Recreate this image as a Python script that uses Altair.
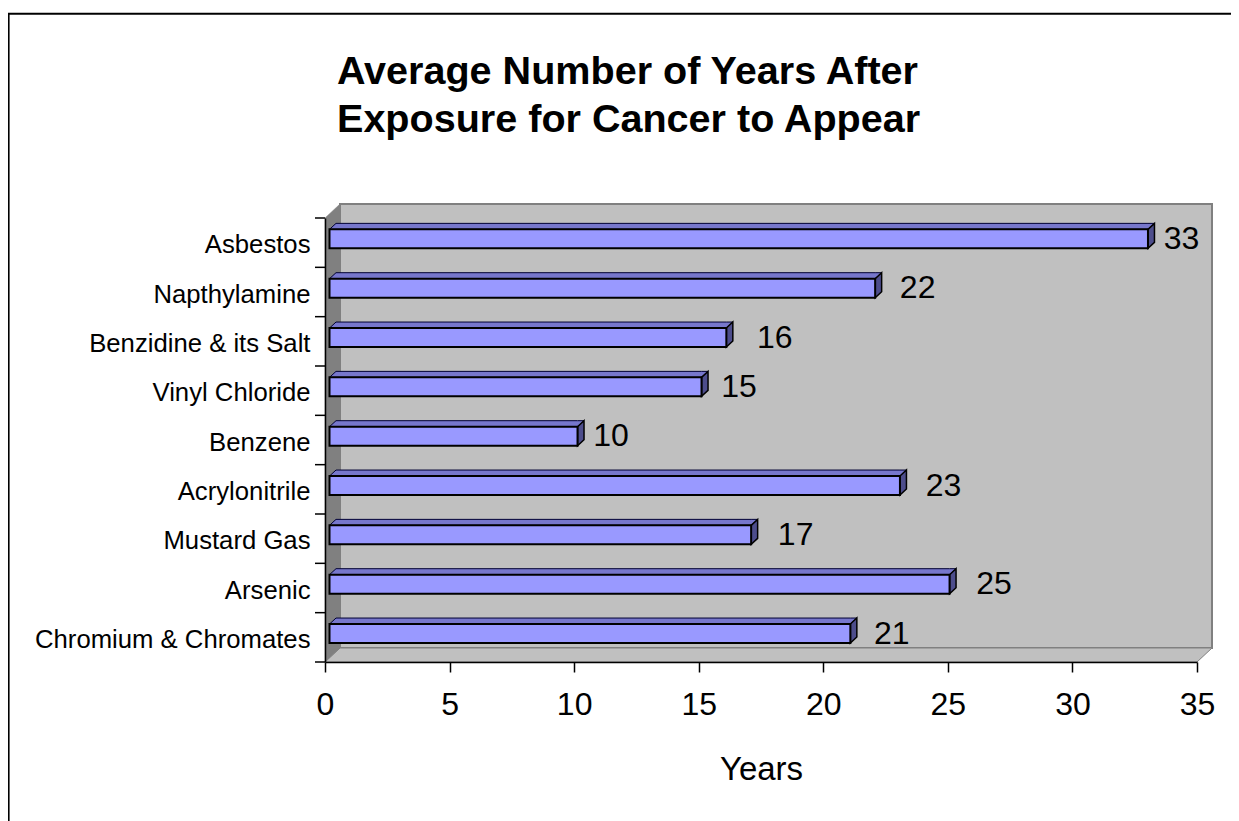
import json
import altair as alt
import pandas as pd

CATEGORIES = ["Asbestos", "Napthylamine", "Benzidine & its Salt", "Vinyl Chloride", "Benzene",
              "Acrylonitrile", "Mustard Gas", "Arsenic", "Chromium & Chromates"]
YEARS = [33, 22, 16, 15, 10, 23, 17, 25, 21]
TITLE = ["Average Number of Years After", "Exposure for Cancer to Appear"]
X_TICKS = [0, 5, 10, 15, 20, 25, 30, 35]
LABEL_NUDGE = [-8, 1, 7, -4, -8, 2, 3, 3, 0]

FONT = "Liberation Sans"
PW, PH = 872, 444
PX_X, PX_Y = PW / 35, PH / 9
FLOOR_DX, FLOOR_DY = 15 / PX_X, 14 / PX_Y
BAR_DX, BAR_DY = 6.5 / PX_X, 6 / PX_Y
BAR_START = 4.5 / PX_X
BAR_GAIN = 0.9955
BAR_LIFT = 3.8 / PX_Y
BAR_HALF = 9.5 / PX_Y

n = len(CATEGORIES)
fronts, tops, sides = [], [], []
for i, (cat, v) in enumerate(zip(CATEGORIES, YEARS)):
    mid = n - i - 0.5 + BAR_LIFT
    lo, hi = mid - BAR_HALF, mid + BAR_HALF
    x0, x1 = BAR_START, BAR_START + v * BAR_GAIN
    fronts.append(dict(cat=cat, x=x0, x2=x1, y=lo, y2=hi, v=v, mid=mid,
                       lx=x1 + BAR_DX + (35 + LABEL_NUDGE[i]) / PX_X))
    for px, a, b in [(x0, hi, hi), (x0 + BAR_DX, hi + BAR_DY, hi),
                     (x1, hi + BAR_DY, hi), (x1 + BAR_DX, hi + BAR_DY, hi + BAR_DY)]:
        tops.append(dict(id=cat, x=px, y=a, y2=b))
    for px, a, b in [(x1, hi, lo), (x1 + BAR_DX, hi + BAR_DY, lo + BAR_DY)]:
        sides.append(dict(id=cat, x=px, y=a, y2=b))

xs = alt.Scale(domain=[0, 35], nice=False, zero=False)
ys = alt.Scale(domain=[0, 9], nice=False, zero=False)
names = json.dumps(list(reversed(CATEGORIES)))
X_AXIS = alt.Axis(values=X_TICKS, grid=False, format="d", zindex=1, domainColor="#000000",
                  domainWidth=1.5, tickColor="#000000", tickWidth=1.5, tickSize=10,
                  labelFont=FONT, labelFontSize=32, labelColor="#000000", labelPadding=17,
                  labelFlush=False, labelOverlap=False, titleFont=FONT, titleFontSize=33,
                  titleFontWeight="normal", titleColor="#000000", titlePadding=33)
Y_AXIS = alt.Axis(values=[i + 0.5 for i in range(n)], grid=False, ticks=False, zindex=1,
                  domainColor="#000000", domainWidth=1.5, labelFont=FONT, labelFontSize=25.7,
                  labelColor="#000000", labelPadding=15, labelLimit=400, labelOverlap=False,
                  labelOffset=2, labelFlush=False,
                  labelExpr=f"{names}[floor(datum.value)]")
X = lambda f="x": alt.X(f"{f}:Q", scale=xs, axis=X_AXIS, title="Years")
Y = lambda f="y": alt.Y(f"{f}:Q", scale=ys, axis=Y_AXIS, title=None)


def poly(rows, fill, stroke, sw):
    return alt.Chart(pd.DataFrame(rows)).mark_area(
        fill=fill, stroke=stroke, strokeWidth=sw, interpolate="linear", strokeJoin="miter", opacity=1,
        orient="vertical"
    ).encode(x=X(), y=Y(), y2="y2:Q", detail="id:N")


wall = [dict(id="w", x=FLOOR_DX, y=9 + FLOOR_DY, y2=FLOOR_DY),
        dict(id="w", x=35 + FLOOR_DX, y=9 + FLOOR_DY, y2=FLOOR_DY)]
left = [dict(id="l", x=0, y=9, y2=0),
        dict(id="l", x=FLOOR_DX, y=9 + FLOOR_DY, y2=FLOOR_DY)]
floor = [dict(id="f", x=0, y=0, y2=0),
         dict(id="f", x=FLOOR_DX, y=FLOOR_DY, y2=0),
         dict(id="f", x=35, y=FLOOR_DY, y2=0),
         dict(id="f", x=35 + FLOOR_DX, y=FLOOR_DY, y2=FLOOR_DY)]

floor_layer = poly(floor, "#c0c0c0", "#808080", 1)
wall_layer = poly(wall, "#c0c0c0", "#808080", 2)
left_layer = poly(left, "#808080", "#808080", 0.5)

top_layer = poly(tops, "#7777cc", "#000033", 1)
side_layer = poly(sides, "#4d4d8c", "#000000", 1.5)
df_front = pd.DataFrame(fronts)
front_layer = alt.Chart(df_front).mark_rect(fill="#9999ff", stroke="#000000", strokeWidth=2).encode(
    x=X(), x2="x2:Q", y=Y(), y2="y2:Q")
value_layer = alt.Chart(df_front).mark_text(font=FONT, fontSize=32, color="#000000").encode(
    x=X("lx"), y=Y("mid"), text="v:Q")
ticks_layer = alt.Chart(pd.DataFrame({"y": list(range(n + 1))})).mark_rule(
    color="#000000", strokeWidth=1.5).encode(x=alt.value(-10), x2=alt.value(0), y=Y())

PAD_L, PAD_T = 317, 210
TOTAL_W, TOTAL_H = 1223, 813
blank = alt.Data(values=[{}])
border_top = alt.Chart(blank).mark_rule(color="#000000", strokeWidth=2).encode(
    x=alt.value(-PAD_L), x2=alt.value(TOTAL_W - PAD_L), y=alt.value(5.7 - PAD_T))
border_left = alt.Chart(blank).mark_rule(color="#000000", strokeWidth=2).encode(
    x=alt.value(0.6 - PAD_L), y=alt.value(5 - PAD_T), y2=alt.value(TOTAL_H - PAD_T))

chart = alt.layer(
    wall_layer, floor_layer, left_layer, border_top, border_left, ticks_layer,
    top_layer, side_layer, front_layer, value_layer,
).properties(
    width=PW, height=PH,
    title=alt.TitleParams(text=TITLE, anchor="start", frame="group", dx=12, offset=-128.5,
                          font=FONT, fontSize=39.55, fontWeight="bold", color="#000000", lineHeight=48),
    autosize=alt.AutoSizeParams(type="none"),
    padding={"left": PAD_L, "top": PAD_T, "right": TOTAL_W - PAD_L - PW, "bottom": TOTAL_H - PAD_T - PH},
    background="#ffffff",
).configure_view(stroke=None)

chart.save("out.html", embed_options={"renderer": "svg", "actions": False})
